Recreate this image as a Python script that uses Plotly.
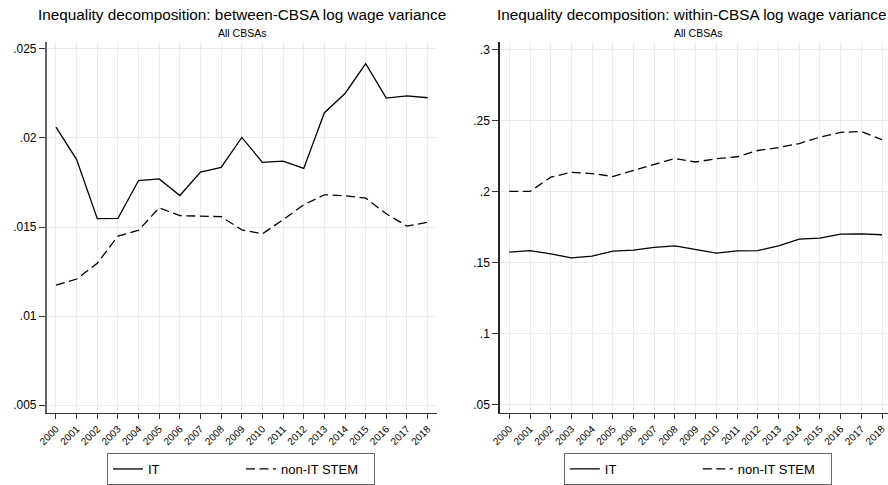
import plotly.graph_objects as go

years = list(range(2000, 2019))
between_it = [0.02061, 0.01879, 0.01547, 0.01549, 0.01761, 0.01770, 0.01677, 0.01809, 0.01835, 0.02003,
              0.01863, 0.01870, 0.01829, 0.02142, 0.02250, 0.02417, 0.02224, 0.02237, 0.02226]
between_stem = [0.01174, 0.01208, 0.01297, 0.01449, 0.01482, 0.01608, 0.01564, 0.01560, 0.01558, 0.01484,
                0.01462, 0.01541, 0.01625, 0.01681, 0.01675, 0.01662, 0.01574, 0.01505, 0.01527]
within_it = [0.1575, 0.1586, 0.1563, 0.1535, 0.1547, 0.1582, 0.1589, 0.1609, 0.1619, 0.1591,
             0.1568, 0.1584, 0.1586, 0.1619, 0.1667, 0.1674, 0.1702, 0.1704, 0.1697]
within_stem = [0.2002, 0.2002, 0.2102, 0.2137, 0.2128, 0.2107, 0.2151, 0.2190, 0.2234, 0.2209,
               0.2232, 0.2246, 0.2290, 0.2311, 0.2339, 0.2384, 0.2418, 0.2423, 0.2367]

left_yticks = [0.005, 0.01, 0.015, 0.02, 0.025]
left_ylabels = [".005", ".01", ".015", ".02", ".025"]
right_yticks = [0.05, 0.1, 0.15, 0.2, 0.25, 0.3]
right_ylabels = [".05", ".1", ".15", ".2", ".25", ".3"]
series_names = ["IT", "non-IT STEM"]
titles = ["Inequality decomposition: between-CBSA log wage variance",
          "Inequality decomposition: within-CBSA log wage variance"]
subtitle = "All CBSAs"

W, H = 888, 485
FONT = "Liberation Sans, Arial, sans-serif"
DASH = "9px,4.5px"

fig = go.Figure()
fig.add_trace(go.Scatter(x=years, y=between_it, mode="lines", name=series_names[0],
                         line=dict(color="black", width=1.3), xaxis="x", yaxis="y", legend="legend"))
fig.add_trace(go.Scatter(x=years, y=between_stem, mode="lines", name=series_names[1],
                         line=dict(color="black", width=1.3, dash=DASH), xaxis="x", yaxis="y", legend="legend"))
fig.add_trace(go.Scatter(x=years, y=within_it, mode="lines", name=series_names[0],
                         line=dict(color="black", width=1.3), xaxis="x2", yaxis="y2", legend="legend2"))
fig.add_trace(go.Scatter(x=years, y=within_stem, mode="lines", name=series_names[1],
                         line=dict(color="black", width=1.3, dash=DASH), xaxis="x2", yaxis="y2", legend="legend2"))

ydom = [1 - 416.7 / H, 1 - 42 / H]
common_x = dict(tickmode="array", tickvals=years, ticktext=[str(y) for y in years], tickangle=-45,
                tickfont=dict(size=10, color="black", family=FONT), ticks="outside", ticklen=5,
                tickcolor="#333", showgrid=True, gridcolor="#ebebeb", gridwidth=1, zeroline=False,
                showline=True, linecolor="#333", linewidth=1.2, automargin=False,
                ticklabeloverflow="allow")
common_y = dict(tickfont=dict(size=12, color="black", family=FONT), ticks="outside", ticklen=6,
                tickcolor="#333", showgrid=True, gridcolor="#ebebeb", gridwidth=1, zeroline=False,
                showline=True, linewidth=1.5, automargin=False, tickmode="array")

legend_common = dict(orientation="h", y=1 - 457 / H, xanchor="center", yanchor="top",
                     bordercolor="#666", borderwidth=1, font=dict(size=13, family=FONT),
                     entrywidth=88, entrywidthmode="pixels", bgcolor="white")

fig.update_layout(
    width=W, height=H, margin=dict(l=0, r=0, t=0, b=0),
    paper_bgcolor="white", plot_bgcolor="white",
    font=dict(family=FONT, color="black"),
    xaxis=dict(domain=[46.7 / W, 436.7 / W], range=[1999.55, 2018.44], anchor="y", **common_x),
    yaxis=dict(domain=ydom, range=[0.00454, 0.02541], anchor="x", tickvals=left_yticks,
               ticktext=left_ylabels, linecolor="#666", **common_y),
    xaxis2=dict(domain=[500 / W, 1.0], range=[1999.551, 2018.29], anchor="y2", **common_x),
    yaxis2=dict(domain=ydom, range=[0.0441, 0.3056], anchor="x2", tickvals=right_yticks,
                ticktext=right_ylabels, linecolor="#222", **common_y),
    legend=dict(x=241 / W, **legend_common),
    legend2=dict(x=697.8 / W, **legend_common),
    showlegend=True,
)

centers = [241.7 / W, 691.5 / W]
sub_centers = [241.7 / W, 697.5 / W]
for c, sc, t in zip(centers, sub_centers, titles):
    fig.add_annotation(text=t, x=c, y=1 - 15 / H, xref="paper", yref="paper", showarrow=False,
                       xanchor="center", yanchor="middle", font=dict(size=15.3, family=FONT, color="black"))
    fig.add_annotation(text=subtitle, x=sc, y=1 - 33 / H, xref="paper", yref="paper", showarrow=False,
                       xanchor="center", yanchor="middle", font=dict(size=10.5, family=FONT, color="black"))

fig.write_html("out.html")
